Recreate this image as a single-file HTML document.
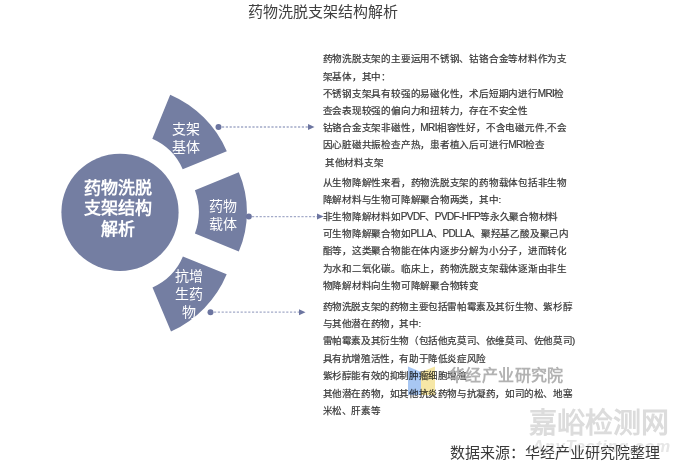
<!DOCTYPE html>
<html lang="zh-CN"><head><meta charset="utf-8">
<style>
*{margin:0;padding:0;box-sizing:border-box}
html,body{width:680px;height:464px;background:#fff;overflow:hidden}
#w{position:absolute;left:0;top:0;width:680px;height:464px}
body{position:relative;font-family:"Liberation Sans",sans-serif;color:#333}
.a{position:absolute;white-space:nowrap}
svg{position:absolute;left:0;top:0}
.t{position:absolute;left:322.5px;font-size:9.55px;letter-spacing:-0.22px;line-height:17.2px;color:#383838;-webkit-text-stroke:0.2px #383838;white-space:nowrap}
.l{font-size:10px;letter-spacing:-0.6px}
.ln{text-align:justify;text-align-last:justify;white-space:nowrap}
.pt{position:absolute;color:#fff;font-size:14px;line-height:18px;text-align:center;white-space:nowrap}
</style></head><body><div id="w">
<svg width="680" height="464" viewBox="0 0 680 464">
<circle cx="120" cy="212.3" r="58.6" fill="#747ea2"/>
<path d="M170.2,94.7 A108.6,108.6 0 0 1 226.8,151.2 L182.7,169.2 A59,59 0 0 0 152.3,138.8 Z" fill="#747ea2"/>
<path d="M238.8,172.3 A100.7,100.7 0 0 1 238.8,251.6 L194.9,233.6 A62,62 0 0 0 194.9,190.3 Z" fill="#747ea2"/>
<path d="M226.7,274.3 A108.6,108.6 0 0 1 171,331.5 L152.5,287.5 A59,59 0 0 0 182.9,256.6 Z" fill="#747ea2"/>
<g stroke="#a3aac8" stroke-width="1.3" stroke-dasharray="2.2 1.6">
<line x1="222" y1="127" x2="308" y2="127"/>
<line x1="252" y1="216.6" x2="317" y2="216.6"/>
<line x1="214" y1="312.2" x2="299" y2="312.2"/>
</g>
<g fill="#6c75a0">
<circle cx="218.5" cy="127" r="3"/>
<circle cx="248.8" cy="216.6" r="3"/>
<circle cx="210.5" cy="312.2" r="3"/>
<path d="M308,124 L314.5,127 L308,130 Z"/>
<path d="M317,213.6 L323.5,216.6 L317,219.6 Z"/>
<path d="M299,309.2 L305.5,312.2 L299,315.2 Z"/>
</g>
</svg>

<div class="a" style="left:248px;top:2px;font-size:15px;line-height:20px;color:#404040"><div class="ln" style="width:150.01px;margin:0 auto">药物洗脱支架结构解析</div></div>

<div class="a" style="left:76px;top:179px;width:84px;text-align:center;color:#fff;font-weight:bold;font-size:17px;line-height:20.4px"><div class="ln" style="width:68.01px;margin:0 auto">药物洗脱</div><div class="ln" style="width:68.01px;margin:0 auto">支架结构</div><div class="ln" style="width:34.01px;margin:0 auto">解析</div></div>

<div class="pt" style="left:166px;top:120px;width:40px"><div class="ln" style="width:28.01px;margin:0 auto">支架</div><div class="ln" style="width:28.01px;margin:0 auto">基体</div></div>
<div class="pt" style="left:203px;top:196.5px;width:40px"><div class="ln" style="width:28.01px;margin:0 auto">药物</div><div class="ln" style="width:28.01px;margin:0 auto">载体</div></div>
<div class="pt" style="left:169px;top:267px;width:40px"><div class="ln" style="width:28.01px;margin:0 auto">抗增</div><div class="ln" style="width:28.01px;margin:0 auto">生药</div><div class="ln" style="width:14.01px;margin:0 auto">物</div></div>

<div class="t" style="top:50.3px"><div class="ln" style="width:244.53px">药物洗脱支架的主要运用不锈钢、钴铬合金等材料作为支</div><div class="ln" style="width:68.48px">架基体，其中：</div><div class="ln" style="width:241.49px">不锈钢支架具有较强的易磁化性，术后短期内进行<span class="l">MRI</span>检</div><div class="ln" style="width:205.40px">查会表现较强的偏向力和扭转力，存在不安全性</div><div class="ln" style="width:243.93px">钴铬合金支架非磁性，<span class="l">MRI</span>相容性好，不含电磁元件,不会</div><div class="ln" style="width:221.93px">因心脏磁共振检查产热，患者植入后可进行<span class="l">MRI</span>检查</div><div class="ln" style="width:61.13px">&nbsp;其他材料支架</div></div>

<div class="t" style="top:173.5px"><div class="ln" style="width:244.53px">从生物降解性来看，药物洗脱支架的药物载体包括非生物</div><div class="ln" style="width:178.49px">降解材料与生物可降解聚合物两类，其中:</div><div class="ln" style="width:235.78px">非生物降解材料如<span class="l">PVDF</span>、<span class="l">PVDF-HFP</span>等永久聚合物材料</div><div class="ln" style="width:246.40px">可生物降解聚合物如<span class="l">PLLA</span>、<span class="l">PDLLA</span>、聚羟基乙酸及聚己内</div><div class="ln" style="width:244.53px">酯等，这类聚合物能在体内逐步分解为小分子，进而转化</div><div class="ln" style="width:244.53px">为水和二氧化碳。临床上，药物洗脱支架载体逐渐由非生</div><div class="ln" style="width:156.49px">物降解材料向生物可降解聚合物转变</div></div>

<div class="t" style="top:297.5px;line-height:17.4px;letter-spacing:-0.4px"><div class="ln" style="width:249.62px">药物洗脱支架的药物主要包括雷帕霉素及其衍生物、紫杉醇</div><div class="ln" style="width:98.28px">与其他潜在药物，其中:</div><div class="ln" style="width:252.40px">雷帕霉素及其衍生物（包括他克莫司、依维莫司、佐他莫司)</div><div class="ln" style="width:163.21px">具有抗增殖活性，有助于降低炎症风险</div><div class="ln" style="width:144.03px">紫杉醇能有效的抑制肿瘤细胞增殖</div><div class="ln" style="width:249.62px">其他潜在药物，如其他抗炎药物与抗凝药，如司的松、地塞</div><div class="ln" style="width:57.62px">米松、肝素等</div></div>

<!-- watermark logo -->
<svg width="680" height="464" viewBox="0 0 680 464" style="mix-blend-mode:multiply">
<path d="M408,366.5 L421,372 L421,395 L408,395 Z" fill="#a8c7f3"/>
<path d="M421,372 L435,366.5 L435,395 L421,395 Z" fill="#f6e7a6"/>
</svg>
<div class="a" style="left:449px;top:365px;font-size:16px;letter-spacing:0.4px;line-height:22px;color:#b2b2b2;font-weight:bold"><div class="ln" style="width:114.82px;margin:0 auto">华经产业研究院</div></div>

<div class="a" style="left:528.5px;top:406.5px;font-size:28px;line-height:34px;color:#dcdcdc;font-weight:bold"><div class="ln" style="width:140.01px;margin:0 auto">嘉峪检测网</div></div>
<div class="a" style="left:532px;top:435.5px;font-size:16.5px;line-height:20px;color:#e6e6e6;font-style:italic;font-weight:bold;letter-spacing:0.8px">AnyTesting.com</div>
<div class="a" style="left:449.5px;top:442.8px;font-size:15px;line-height:20px;color:#3a3a3a"><div class="ln" style="width:210.01px;margin:0 auto">数据来源：华经产业研究院整理</div></div>
</div></body></html>
